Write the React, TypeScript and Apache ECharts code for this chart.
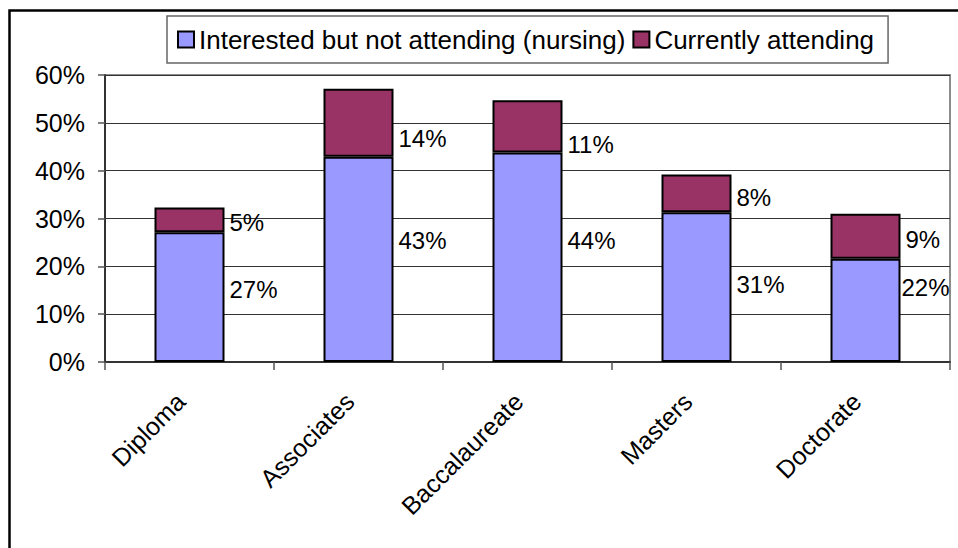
import React, { useEffect, useRef } from "react";
import * as echarts from "echarts";

const categories = ["Diploma", "Associates", "Baccalaureate", "Masters", "Doctorate"];
const seriesNames = ["Interested but not attending (nursing)", "Currently attending"];
const interestedValues = [27.1, 42.9, 43.8, 31.3, 21.6];
const attendingValues = [5.2, 14.2, 10.9, 7.9, 9.4];
const yMin = 0;
const yMax = 60;
const yStep = 10;

// label nudges (layout only)
const interestedLabelOffsets: [number, number][] = [[0, -8], [0, -19], [0, -17], [0, -3], [-4, -23]];
const attendingLabelOffsets: [number, number][] = [[0, 3], [0, 16], [0, 18], [0, 4], [0, 3]];

const FONT = "'Liberation Sans', Arial, Helvetica, sans-serif";

export default function App() {
  const ref = useRef<HTMLDivElement>(null);
  useEffect(() => {
    if (!ref.current) return;
    const chart = echarts.init(ref.current, null, { renderer: "svg" });
    const labelCommon = {
      show: true,
      position: "right" as const,
      distance: 5,
      fontSize: 24,
      color: "#000",
      fontFamily: FONT,
      formatter: (p: any) => Math.round(p.value) + "%",
    };
    chart.setOption({
      animation: false,
      backgroundColor: "#fff",
      textStyle: { fontFamily: FONT },
      graphic: [
        {
          type: "rect",
          silent: true,
          z: 100,
          shape: { x: 9.5, y: 10.5, width: 1000, height: 600 },
          style: { fill: null, stroke: "#000", lineWidth: 2.5 },
        },
      ],
      legend: {
        top: 16,
        left: 167,
        orient: "horizontal",
        padding: [10, 14, 10, 10],
        itemWidth: 16,
        itemHeight: 16,
        itemGap: 7,
        borderColor: "#666",
        borderWidth: 1.5,
        selectedMode: false,
        icon: "rect",
        textStyle: { fontSize: 26, color: "#000", fontFamily: FONT, lineHeight: 27 },
        data: seriesNames,
      },
      grid: {
        left: 105,
        top: 75,
        right: 8,
        bottom: 186,
        show: true,
        borderColor: "#8c8c8c",
        borderWidth: 2,
      },
      xAxis: {
        type: "category",
        data: categories,
        axisLine: { show: true, lineStyle: { color: "#333", width: 2 } },
        axisTick: { show: true, length: 8, lineStyle: { color: "#555", width: 1.5 } },
        axisLabel: {
          rotate: 45,
          interval: 0,
          fontSize: 25,
          color: "#000",
          margin: 44,
          verticalAlign: "bottom",
          fontFamily: FONT,
        },
        splitLine: { show: false },
      },
      yAxis: {
        type: "value",
        min: yMin,
        max: yMax,
        interval: yStep,
        axisLine: { show: true, lineStyle: { color: "#333", width: 2 } },
        axisTick: { show: true, length: 7, lineStyle: { color: "#555", width: 1.5 } },
        axisLabel: {
          formatter: "{value}%",
          fontSize: 25,
          color: "#000",
          margin: 20,
          fontFamily: FONT,
        },
        splitLine: { show: true, lineStyle: { color: "#333", width: 1 } },
      },
      series: [
        {
          name: seriesNames[0],
          type: "bar",
          stack: "total",
          barWidth: 70,
          itemStyle: { color: "#9999FF", borderColor: "#000", borderWidth: 2 },
          label: labelCommon,
          data: interestedValues.map((v, i) => ({ value: v, label: { offset: interestedLabelOffsets[i] } })),
        },
        {
          name: seriesNames[1],
          type: "bar",
          stack: "total",
          barWidth: 70,
          itemStyle: { color: "#993366", borderColor: "#000", borderWidth: 2 },
          label: labelCommon,
          data: attendingValues.map((v, i) => ({ value: v, label: { offset: attendingLabelOffsets[i] } })),
        },
      ],
    });
    return () => chart.dispose();
  }, []);
  return (
    <div
      ref={ref}
      style={{ position: "fixed", left: 0, top: 0, width: 958, height: 548, background: "#fff" }}
    />
  );
}
